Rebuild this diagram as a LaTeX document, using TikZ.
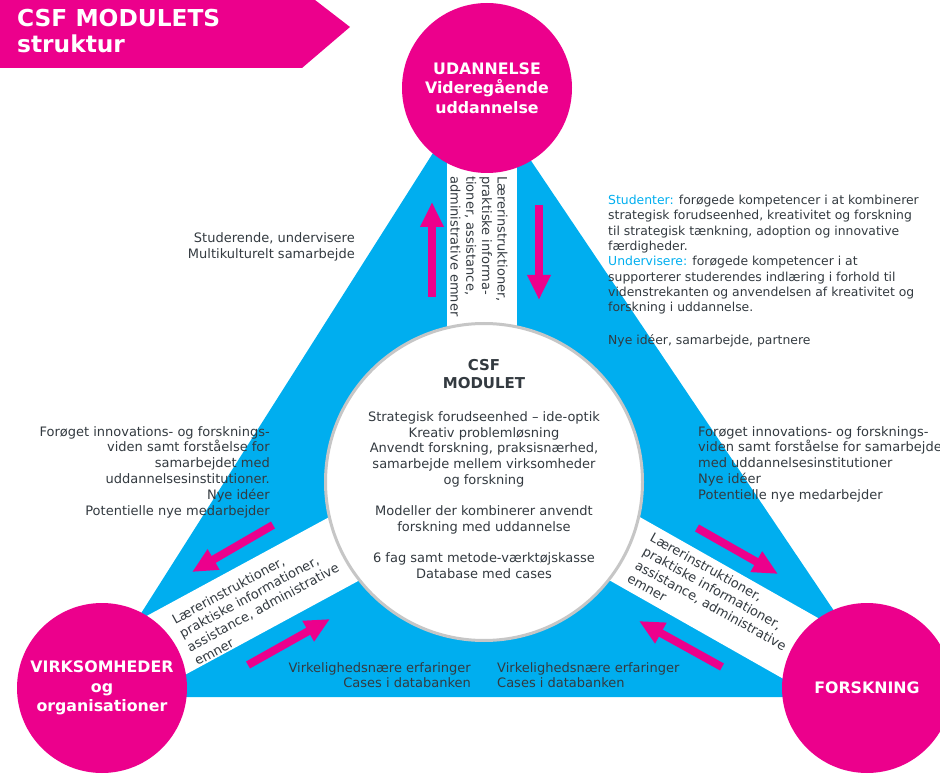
\documentclass[tikz,border=0pt]{standalone}
\usepackage{fontspec}
\setmainfont{DejaVu Sans}
\usetikzlibrary{arrows.meta,positioning,calc}
\definecolor{csfpink}{HTML}{EC008C}
\definecolor{csfblue}{HTML}{00AEEF}
\definecolor{csftext}{HTML}{333a40}
\newcommand\mytxt{\fontsize{13}{15.7}\selectfont}

\begin{document}
\begin{tikzpicture}[x=1pt, y=-1pt, line join=round,
  every node/.style={text=csftext, inner sep=0pt},
  hub/.style={circle, fill=csfpink, minimum size=170pt, text=white, align=center,
    font=\fontsize{15.8}{19.5}\selectfont\bfseries},
  band/.style={white, line width=70pt},
  flow/.style={csfpink, line width=8pt, -{Triangle[width=22pt,length=25pt]}},
  info/.style={font=\mytxt}]
\useasboundingbox (0,0) rectangle (940,775);
% hjoerner og centre
\coordinate (T) at (478,82);
\coordinate (L) at (88,697);
\coordinate (R) at (892,697);
\coordinate (M) at (484,482);
\fill[csfblue] (T)--(L)--(R)--cycle;
% hvide baand
\draw[band] (481.5,480) -- (481.5,100);
\draw[band] (484,473) -- (102,680);
\draw[band] (484,469) -- (867,686);
% cirkler
\node[circle, fill=white, draw=gray!45, line width=3pt, minimum size=317pt] (modul) at (M) {};
\node[hub] (udd) at (487,88) {UDANNELSE\\Videregående\\uddannelse};
\node[hub] (virk) at (102,688) {VIRKSOMHEDER\\og\\organisationer};
\node[hub] (forsk) at (867,688) {FORSKNING};
% titel
\fill[csfpink] (0,0) -- (315,0) -- (350,27) -- (302,68) -- (0,68) -- cycle;
\node[anchor=base west, text=white, font=\fontsize{23.3}{26}\selectfont\bfseries] (titel) at (17,27) {CSF MODULETS};
\node[anchor=base west, text=white, font=\fontsize{23.3}{26}\selectfont\bfseries] (under) at (17,53) {struktur};
% pile
\coordinate (a1) at (432,297); \coordinate (a2) at (432,202);
\coordinate (b1) at (539,205); \coordinate (b2) at (539,300);
\coordinate (c1) at (273,525); \coordinate (c2) at (192,572);
\coordinate (d1) at (248,665); \coordinate (d2) at (330,619);
\coordinate (e1) at (697,528); \coordinate (e2) at (778,574);
\coordinate (f1) at (722,667); \coordinate (f2) at (639,621);
\draw[flow] (a1) -- (a2);
\draw[flow] (b1) -- (b2);
\draw[flow] (c1) -- (c2);
\draw[flow] (d1) -- (d2);
\draw[flow] (e1) -- (e2);
\draw[flow] (f1) -- (f2);
% tekst i midten
\node[font=\fontsize{15}{18}\selectfont\bfseries, align=center] (mtitel) at (484,374) {CSF\\MODULET};
\node[info, align=center] (mtekst) at (484,495) {Strategisk forudseenhed – ide-optik\\
  Kreativ problemløsning\\ Anvendt forskning, praksisnærhed,\\
  samarbejde mellem virksomheder\\ og forskning\\[15.7pt]
  Modeller der kombinerer anvendt\\ forskning med uddannelse\\[15.7pt]
  6 fag samt metode-værktøjskasse\\ Database med cases};
% tekst i baand
\node[info, rotate=-90, anchor=west, align=left] (bt) at (479,176) {Lærerinstruktioner,\\
  praktiske informa-\\ tioner, assistance,\\ administrative emner};
\node[info, rotate=28.5, anchor=west, align=left] (bv) at (184,641) {Lærerinstruktioner,\\
  praktiske informationer,\\ assistance, administrative\\ emner};
\node[info, rotate=-29, anchor=west, align=left] (bh) at (640,557) {Lærerinstruktioner,\\
  praktiske informationer,\\ assistance, administrative\\ emner};
% tekst omkring
\node[info, anchor=north east, align=right, font=\fontsize{13}{16}\selectfont] (stud) at (355,232) {Studerende, undervisere\\
  Multikulturelt samarbejde};
\node[info, anchor=north west, align=left, font=\fontsize{12.4}{15.3}\selectfont] (komp) at (608,195) {\textcolor{csfblue}{Studenter:}
  forøgede kompetencer i at kombinerer\\ strategisk forudseenhed, kreativitet og forskning\\
  til strategisk tænkning, adoption og innovative\\ færdigheder.\\
  \textcolor{csfblue}{Undervisere:} forøgede kompetencer i at\\
  supporterer studerendes indlæring i forhold til\\
  videnstrekanten og anvendelsen af kreativitet og\\ forskning i uddannelse.\\[17pt]
  Nye idéer, samarbejde, partnere};
\node[info, anchor=north east, align=right, font=\fontsize{13}{15.8}\selectfont] (vv) at (270,426) {Forøget innovations- og forsknings-\\
  viden samt forståelse for\hspace*{4pt}\\ samarbejdet med\hspace*{4pt}\\
  uddannelsesinstitutioner.\\ Nye idéer\\ Potentielle nye medarbejder};
\node[info, anchor=north west, align=left, font=\fontsize{13}{15.8}\selectfont] (vh) at (698,426) {Forøget innovations- og forsknings-\\
  viden samt forståelse for samarbejdet\\ med uddannelsesinstitutioner\\
  Nye idéer\\ Potentielle nye medarbejder};
\node[info, anchor=north east, align=right] (cv) at (471,662) {Virkelighedsnære erfaringer\\
  Cases i databanken};
\node[info, anchor=north west, align=left] (ch) at (497,662) {Virkelighedsnære erfaringer\\
  Cases i databanken};
\end{tikzpicture}
\end{document}
